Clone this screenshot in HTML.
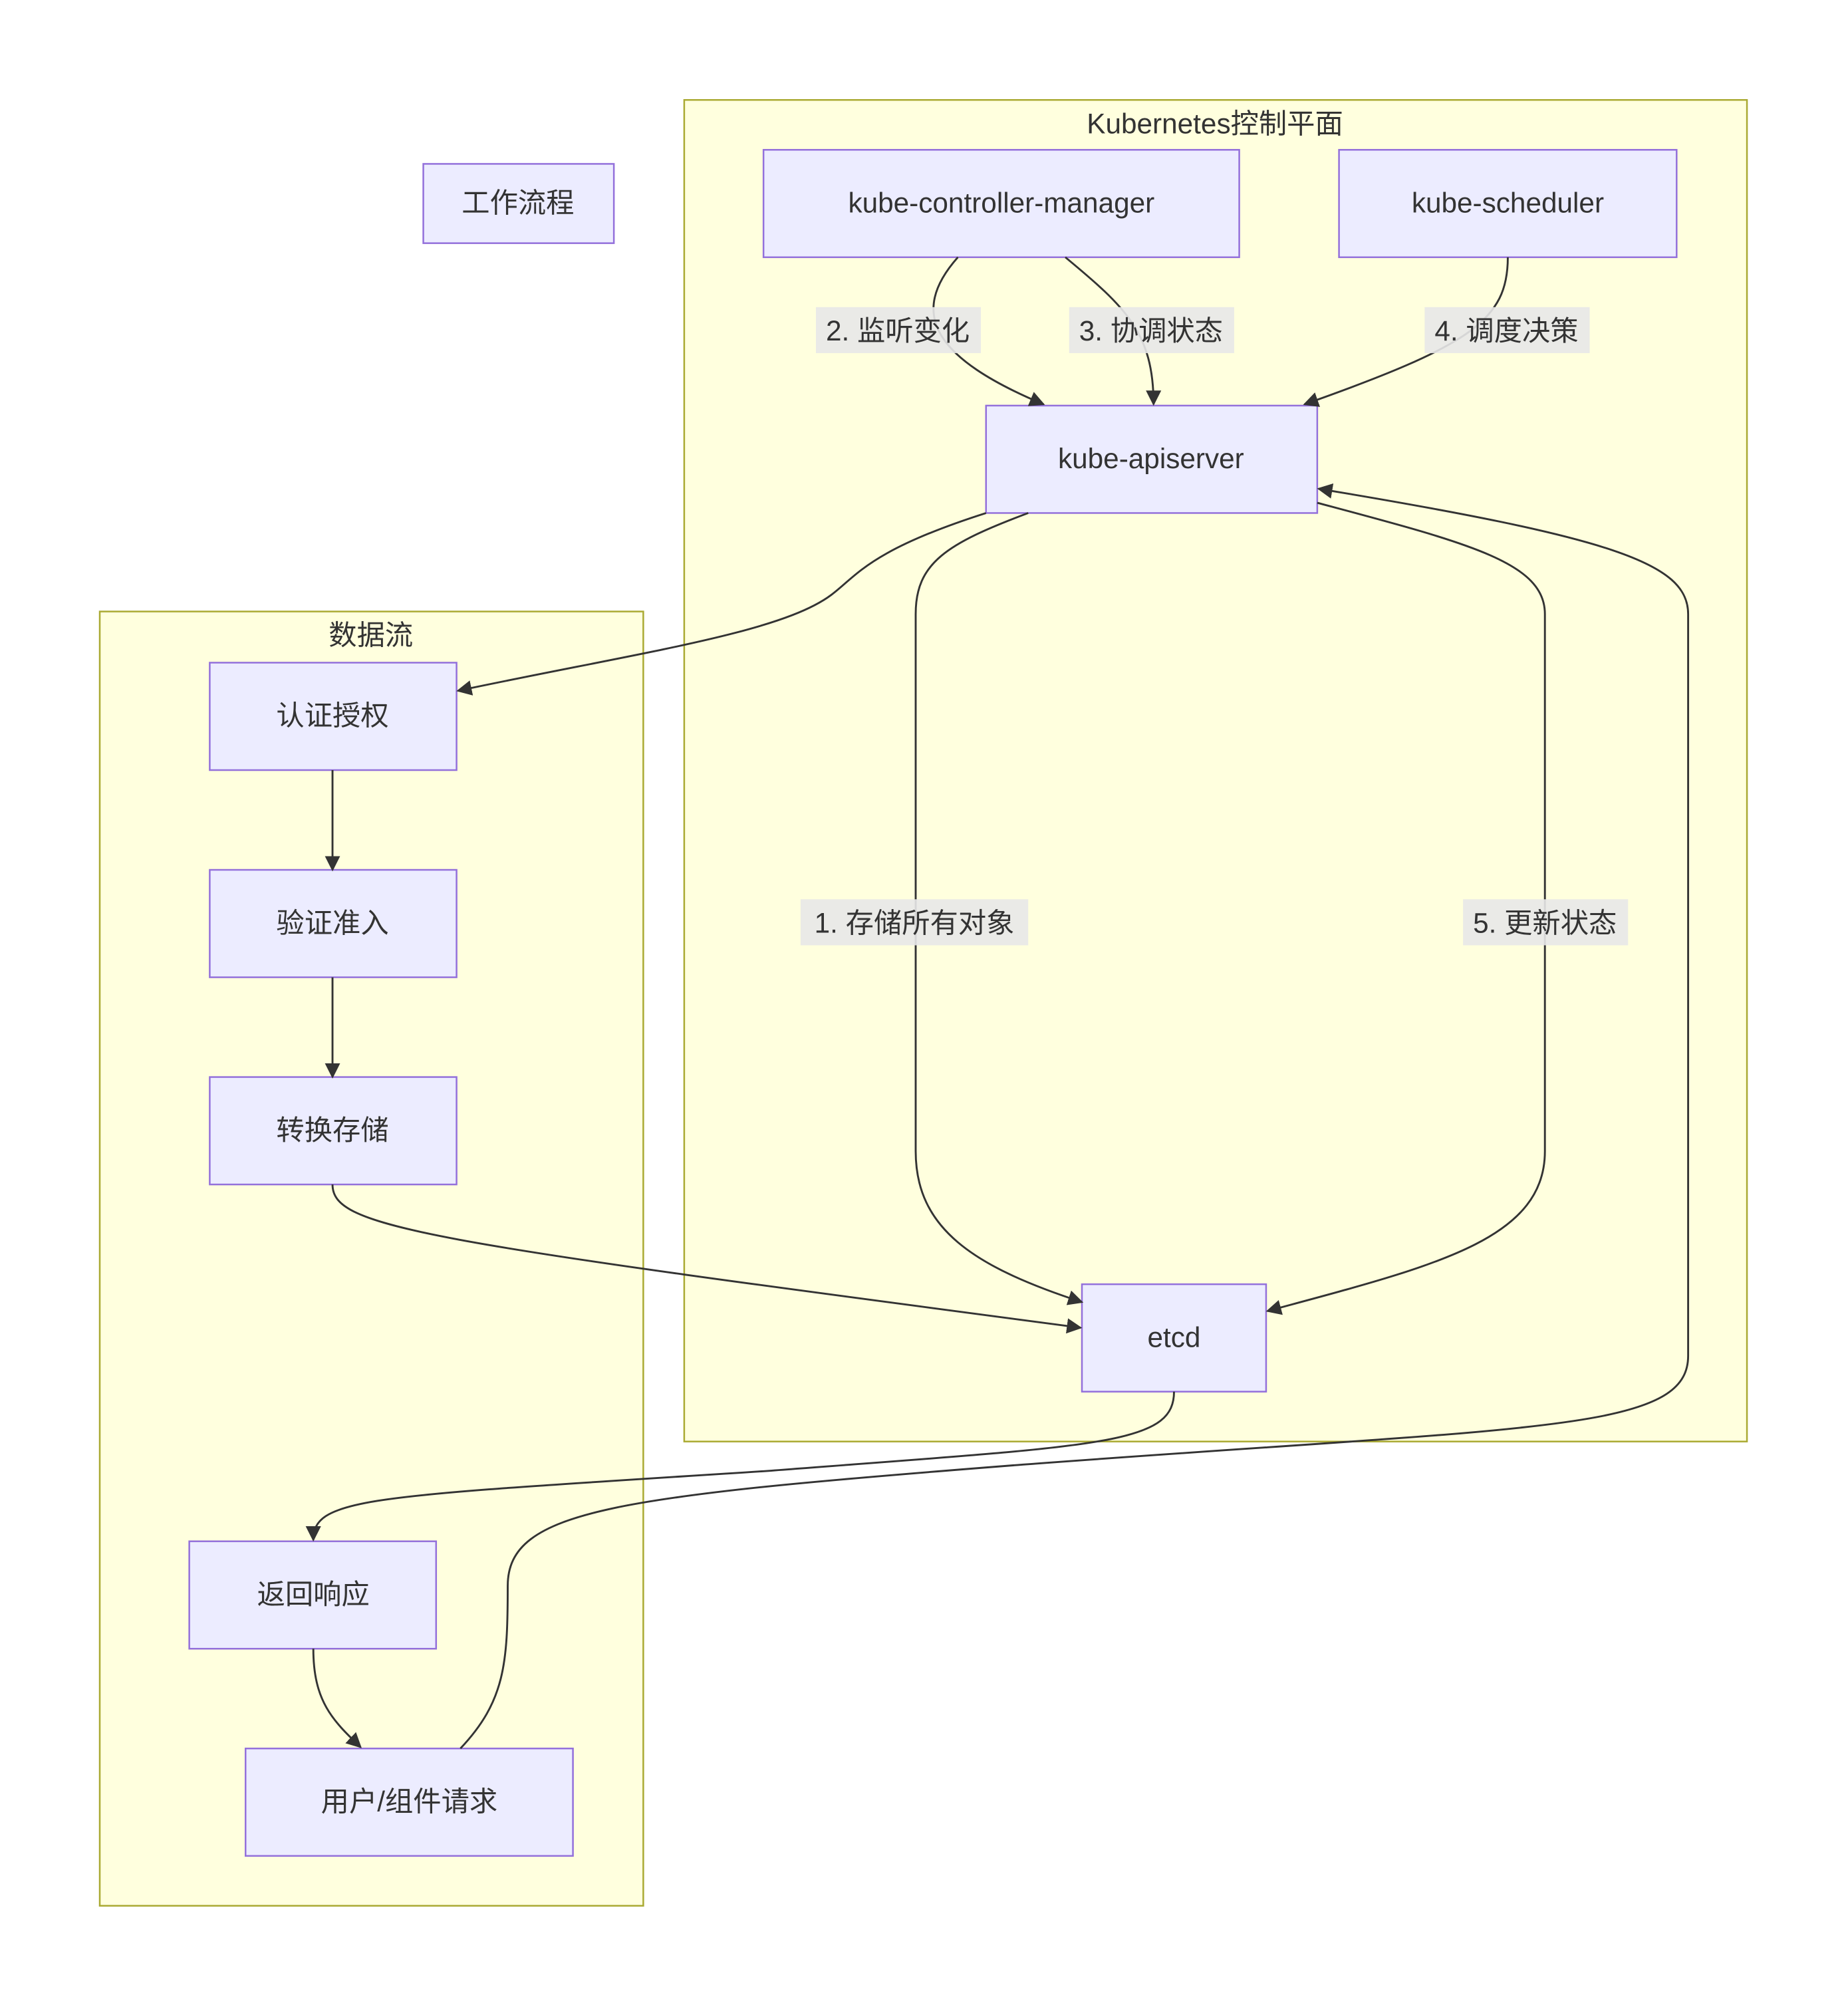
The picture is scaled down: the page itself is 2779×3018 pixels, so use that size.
<!DOCTYPE html>
<html><head><meta charset="utf-8"><style>
html,body{margin:0;padding:0;background:#fff;}
svg{display:block;}
text{font-family:"Liberation Sans","Noto Sans CJK SC",sans-serif;fill:#333;}
.n{fill:#ECECFF;stroke:#9370DB;stroke-width:1.3;}
.c{fill:#FFFFDE;stroke:#AAAA33;stroke-width:1.3;}
.e{fill:none;stroke:#333;stroke-width:1.5;}
.lb{fill:#e8e8e8;opacity:0.9;}
</style></head><body>
<svg width="2779" height="3018" viewBox="0 0 1445 1569" xmlns="http://www.w3.org/2000/svg">
<defs><marker id="a" viewBox="0 0 10 10" refX="9" refY="5" markerWidth="8" markerHeight="8" orient="auto"><path d="M0,0L10,5L0,10z" fill="#333"/></marker></defs>
<rect class="c" x="535" y="78" width="831" height="1049"/>
<text x="950" y="104" font-size="22" text-anchor="middle">Kubernetes控制平面</text>
<rect class="c" x="78" y="478" width="425" height="1012"/>
<text x="290" y="504" font-size="22" text-anchor="middle">数据流</text>

<g font-size="22" text-anchor="middle">
<rect class="n" x="331" y="128" width="149" height="62"/><text x="405" y="166">工作流程</text>
<rect class="n" x="597" y="117" width="372" height="84"/><text x="783" y="166">kube-controller-manager</text>
<rect class="n" x="1047" y="117" width="264" height="84"/><text x="1179" y="166">kube-scheduler</text>
<rect class="n" x="771" y="317" width="259" height="84"/><text x="900" y="366">kube-apiserver</text>
<rect class="n" x="164" y="518" width="193" height="84"/><text x="260" y="567">认证授权</text>
<rect class="n" x="164" y="680" width="193" height="84"/><text x="260" y="729">验证准入</text>
<rect class="n" x="164" y="842" width="193" height="84"/><text x="260" y="891">转换存储</text>
<rect class="n" x="846" y="1004" width="144" height="84"/><text x="918" y="1053">etcd</text>
<rect class="n" x="148" y="1205" width="193" height="84"/><text x="245" y="1254">返回响应</text>
<rect class="n" x="192" y="1367" width="256" height="84"/><text x="320" y="1416">用户/组件请求</text>
</g>

<path class="e" marker-end="url(#a)" d="M749,201 C710,245 730,280 816,316"/>
<path class="e" marker-end="url(#a)" d="M833,201 C880,240 902,260 902,316"/>
<path class="e" marker-end="url(#a)" d="M1179,201 C1179,250 1150,270 1020,316"/>
<path class="e" marker-end="url(#a)" d="M771,401 C680,430 670,450 650,465 C610,495 500,510 358,540"/>
<path class="e" marker-end="url(#a)" d="M804,401 C740,425 716,440 716,480 L716,900 C716,960 760,990 846,1018"/>
<path class="e" marker-end="url(#a)" d="M1030,393 C1150,425 1208,440 1208,480 L1208,900 C1208,970 1120,990 991,1025"/>
<path class="e" marker-end="url(#a)" d="M360,1367 C395,1330 397,1300 397,1240 C397,1180 480,1170 800,1145 C1200,1115 1320,1120 1320,1060 L1320,480 C1320,440 1260,420 1031,382"/>
<path class="e" marker-end="url(#a)" d="M260,602 L260,680"/>
<path class="e" marker-end="url(#a)" d="M260,764 L260,842"/>
<path class="e" marker-end="url(#a)" d="M260,926 C260,960 330,970 845,1038"/>
<path class="e" marker-end="url(#a)" d="M918,1088 C918,1130 860,1130 600,1150 C290,1170 245,1170 245,1204"/>
<path class="e" marker-end="url(#a)" d="M245,1289 C245,1330 260,1345 282,1366"/>

<g font-size="22" text-anchor="middle">
<rect class="lb" x="638" y="240" width="129" height="36"/><text x="702" y="266">2. 监听变化</text>
<rect class="lb" x="836" y="240" width="129" height="36"/><text x="900" y="266">3. 协调状态</text>
<rect class="lb" x="1114" y="240" width="129" height="36"/><text x="1178" y="266">4. 调度决策</text>
<rect class="lb" x="626" y="703" width="178" height="36"/><text x="715" y="729">1. 存储所有对象</text>
<rect class="lb" x="1144" y="703" width="129" height="36"/><text x="1208" y="729">5. 更新状态</text>
</g>
</svg>
</body></html>
